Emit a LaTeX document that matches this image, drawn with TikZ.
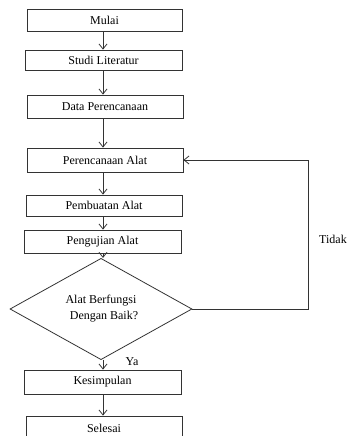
\documentclass[tikz,border=0pt]{standalone}
\usepackage{fontspec}
\setmainfont{Liberation Serif}
\usetikzlibrary{shapes.geometric,arrows.meta}
\begin{document}
\begin{tikzpicture}[x=1pt,y=-1pt,
  box/.style={draw=black!80,line width=0.8pt,rectangle,inner sep=0pt,font=\fontsize{12}{13}\selectfont},
  dec/.style={draw=black!80,line width=0.8pt,diamond,inner sep=0pt,minimum width=182pt,minimum height=78pt,align=center,font=\fontsize{12}{16}\selectfont},
  flow/.style={draw=black!80,line width=0.8pt,-{Straight Barb[length=5pt,width=8pt]}},
  lbl/.style={font=\fontsize{12}{13}\selectfont,inner sep=0pt}]
\useasboundingbox (0,0) rectangle (349,436);
\clip (0,0) rectangle (349,436);
\node[box,minimum width=155pt,minimum height=22pt] (mulai) at (104.5,20) {Mulai};
\node[box,minimum width=157pt,minimum height=20pt] (studi) at (103.5,60) {Studi Literatur};
\node[box,minimum width=156pt,minimum height=23pt] (data) at (105,106.5) {Data Perencanaan};
\node[box,minimum width=156pt,minimum height=24pt] (renc) at (105,160) {Perencanaan Alat};
\node[box,minimum width=156pt,minimum height=21pt] (buat) at (104,205.5) {Pembuatan Alat};
\node[box,minimum width=157pt,minimum height=23pt] (uji) at (102.5,241.5) {Pengujian Alat};
\node[dec] (dia) at (101,309) {Alat Berfungsi\\ \hspace*{6pt}Dengan Baik?};
\node[box,minimum width=157pt,minimum height=24pt] (simp) at (102.5,382) {Kesimpulan};
\node[box,minimum width=156pt,minimum height=24pt] (selesai) at (104,428) {Selesai};
\coordinate (spine) at (103,0);
\coordinate (corner) at (308,309);
\node[lbl] (tidak) at (333,239) {Tidak};
\node[lbl] (ya) at (132,362) {Ya};
\draw[flow] (mulai.south -| spine) -- (studi.north -| spine);
\draw[flow] (studi.south -| spine) -- (data.north -| spine);
\draw[flow] (data.south -| spine) -- (renc.north -| spine);
\draw[flow] (renc.south -| spine) -- (buat.north -| spine);
\draw[flow] (buat.south -| spine) -- (uji.north -| spine);
\draw[flow] (uji.south -| spine) -- (dia.north -| spine);
\draw[flow] (dia.south -| spine) -- (simp.north -| spine);
\draw[flow] (simp.south -| spine) -- (selesai.north -| spine);
\draw[flow] (dia.east) -- (corner) |- (renc.east);
\end{tikzpicture}
\end{document}
